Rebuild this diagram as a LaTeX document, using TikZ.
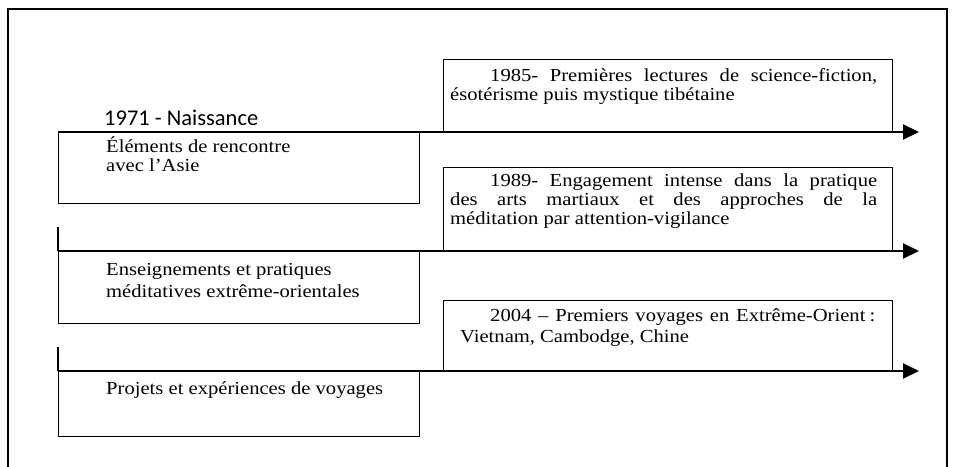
\documentclass[tikz,border=0pt]{standalone}
\usepackage{fontspec}
\setmainfont[FakeStretch=1.12]{Liberation Serif}
\newfontfamily\calib{Carlito}
\usetikzlibrary{arrows.meta}
\begin{document}
\begin{tikzpicture}[x=1pt,y=-1pt,
  boxline/.style={line width=1.4pt},
  framebox/.style={draw,line width=1.4pt,anchor=north west,inner sep=0pt},
  timeline/.style={line width=2pt,-{Triangle[length=16pt,width=15pt]}},
  txt/.style={anchor=base west,inner sep=0pt,font=\fontsize{18.4}{19}\selectfont},
  yearlbl/.style={anchor=base west,inner sep=0pt,font=\calib\fontsize{22.5}{26}\selectfont}]
\useasboundingbox (0,0) rectangle (953,466);
% outer frame (open at the bottom)
\draw[line width=1.4pt] (8,467) -- (8,9) -- (947,9) -- (947,467);

% left boxes
\node[framebox,minimum width=361pt,minimum height=71pt] (L1) at (58,132) {};
\node[framebox,minimum width=361pt,minimum height=72pt] (L2) at (58,251) {};
\node[framebox,minimum width=361pt,minimum height=65pt] (L3) at (58,371) {};

% right boxes
\node[framebox,minimum width=449pt,minimum height=73pt] (R1) at (443,59) {};
\node[framebox,minimum width=449pt,minimum height=84pt] (R2) at (443,167) {};
\node[framebox,minimum width=449pt,minimum height=71pt] (R3) at (443,300) {};

% timelines
\coordinate (t1s) at (58,132);  \coordinate (t1e) at (919,132);
\coordinate (t2s) at (58,251);  \coordinate (t2e) at (919,251);
\coordinate (t3s) at (58,371);  \coordinate (t3e) at (919,371);
\coordinate (k2) at (58,227);
\coordinate (k3) at (58,347);
\draw[boxline] (k2) -- (t2s);
\draw[boxline] (k3) -- (t3s);
\draw[timeline] (t1s) -- (t1e);
\draw[timeline] (t2s) -- (t2e);
\draw[timeline] (t3s) -- (t3e);

% texts
\node[yearlbl] (y71) at (104,125) {1971 - Naissance};
\node[txt] (l1a) at (106,152.5) {Éléments de rencontre};
\node[txt] (l1b) at (106,171.5) {avec l’Asie};
\node[txt] (l2a) at (106,275) {Enseignements et pratiques};
\node[txt] (l2b) at (106,297) {méditatives extrême-orientales};
\node[txt] (l3a) at (106,394) {Projets et expériences de voyages};

\node[txt] (r1a) at (490,81.5) {\makebox[387pt][s]{1985- Premières lectures de science-fiction,}};
\node[txt] (r1b) at (450,100) {ésotérisme puis mystique tibétaine};
\node[txt] (r2a) at (490,186.5) {\makebox[387pt][s]{1989- Engagement intense dans la pratique}};
\node[txt] (r2b) at (450,205) {\makebox[427pt][s]{des arts martiaux et des approches de la}};
\node[txt] (r2c) at (450,224) {méditation par attention-vigilance};
\node[txt] (r3a) at (490,321.5) {\makebox[385pt][s]{2004 – Premiers voyages en Extrême-Orient\hspace{4pt}:}};
\node[txt] (r3b) at (460,342.5) {Vietnam, Cambodge, Chine};
\end{tikzpicture}
\end{document}
